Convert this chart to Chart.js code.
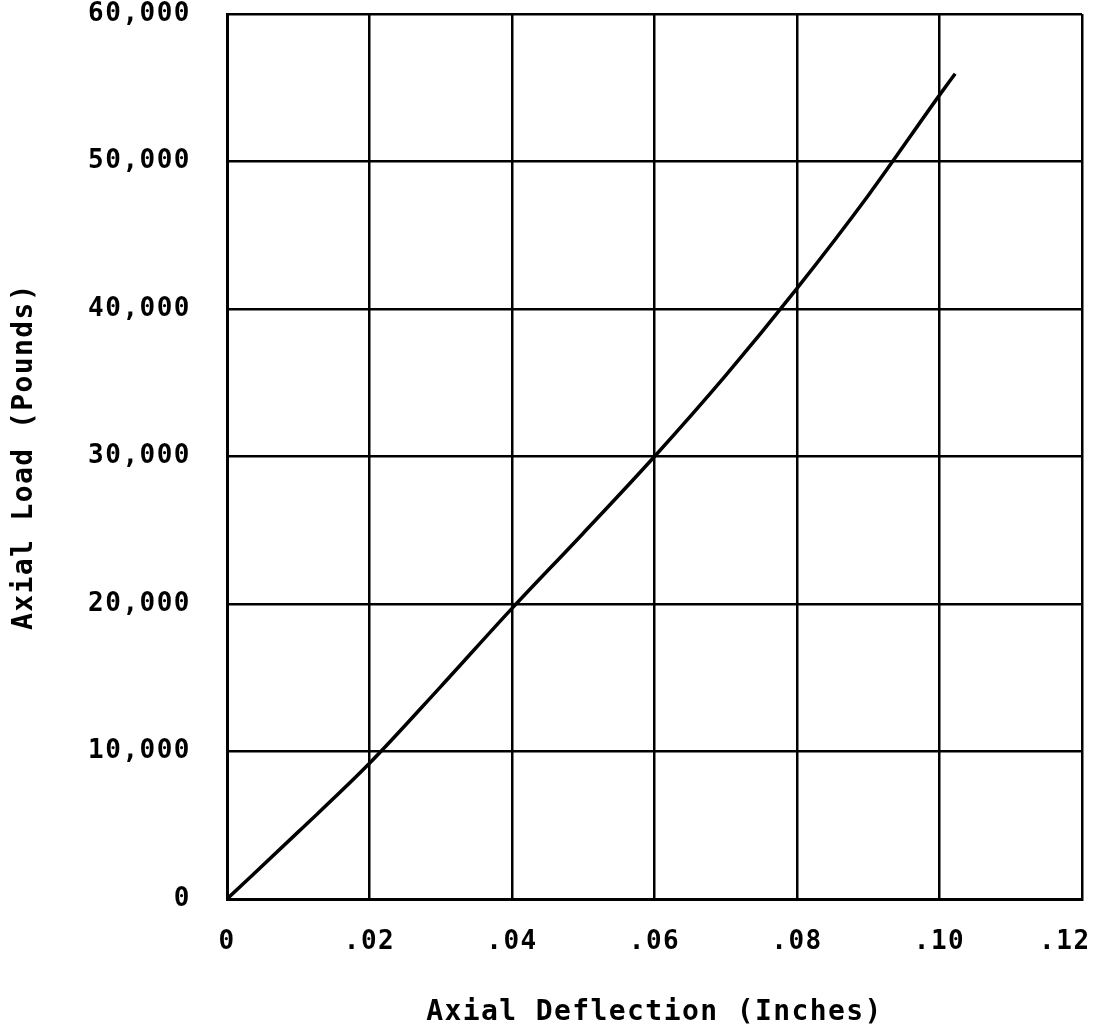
<!DOCTYPE html>
<html>
<head>
<meta charset="utf-8">
<script src="https://cdn.jsdelivr.net/npm/chart.js@4"></script>
<style>
  html, body { margin: 0; padding: 0; background: #fff; }
</style>
</head>
<body>
<canvas id="loadChart" width="1096" height="1034"></canvas>
<script>
// values
const deflection = [0, 0.01, 0.02, 0.03, 0.04, 0.05, 0.06, 0.07, 0.08, 0.09, 0.10, 0.1022];
const load = [0, 4550, 9200, 14400, 19700, 24800, 30000, 35500, 41400, 47700, 54500, 55950];

const xTicks = ['0', '.02', '.04', '.06', '.08', '.10', '.12'];
const yTicks = ['0', '10,000', '20,000', '30,000', '40,000', '50,000', '60,000'];

const mono = 'DejaVu Sans Mono';

// typewriter look: widen the letter spacing for labels and titles
const spacing = {
  id: 'spacing',
  beforeDraw(chart) {
    Object.values(chart.scales).forEach(s => {
      if (s._spaced) return;
      s._spaced = true;
      const labels = s.drawLabels, title = s.drawTitle;
      s.drawLabels = function (area) {
        this.ctx.save(); this.ctx.letterSpacing = '1.5px';
        labels.call(this, area);
        this.ctx.restore();
      };
      s.drawTitle = function () {
        this.ctx.save(); this.ctx.letterSpacing = '1.4px';
        title.call(this);
        this.ctx.restore();
      };
    });
  }
};

function noPad(scale) {
  scale.paddingLeft = 0;
  scale.paddingRight = 0;
  scale.paddingTop = 0;
  scale.paddingBottom = 0;
}

new Chart(document.getElementById('loadChart'), {
  type: 'line',
  data: {
    datasets: [{
      data: deflection.map((x, i) => ({x: x, y: load[i]})),
      borderColor: '#000',
      borderWidth: 3.5,
      pointRadius: 0,
      cubicInterpolationMode: 'monotone',
      fill: false
    }]
  },
  options: {
    responsive: false,
    animation: false,
    layout: { padding: { top: 14, right: 14, left: 0, bottom: 0 } },
    plugins: {
      legend: { display: false },
      tooltip: { enabled: false }
    },
    scales: {
      x: {
        type: 'linear',
        min: 0,
        max: 0.12,
        afterFit(scale) { noPad(scale); scale.height = 135; },
        ticks: {
          stepSize: 0.02,
          autoSkip: false,
          maxRotation: 0,
          padding: 28,
          color: '#000',
          font: { family: mono, size: 26, weight: 'bold' },
          callback: (v) => {
            const i = Math.round(v / 0.02);
            // last label sits inside the frame in the original
            return i === 6 ? xTicks[i] + '  ' : xTicks[i];
          }
        },
        grid: { color: '#000', lineWidth: 2.5, drawTicks: false },
        border: { color: '#000', width: 3 },
        title: {
          display: true,
          text: 'Axial Deflection (Inches)',
          color: '#000',
          font: { family: mono, size: 28, weight: 'bold' },
          padding: { top: 0, bottom: 4 }
        }
      },
      y: {
        min: 0,
        max: 60000,
        afterFit(scale) { noPad(scale); scale.width = 227; },
        ticks: {
          stepSize: 10000,
          padding: 36,
          color: '#000',
          font: { family: mono, size: 26, weight: 'bold' },
          callback: (v) => yTicks[Math.round(v / 10000)]
        },
        grid: { color: '#000', lineWidth: 2.5, drawTicks: false },
        border: { color: '#000', width: 3 },
        title: {
          display: true,
          text: 'Axial Load (Pounds)',
          color: '#000',
          font: { family: mono, size: 28, weight: 'bold' },
          padding: { top: 8, bottom: 0 }
        }
      }
    }
  },
  plugins: [spacing]
});
</script>
</body>
</html>
